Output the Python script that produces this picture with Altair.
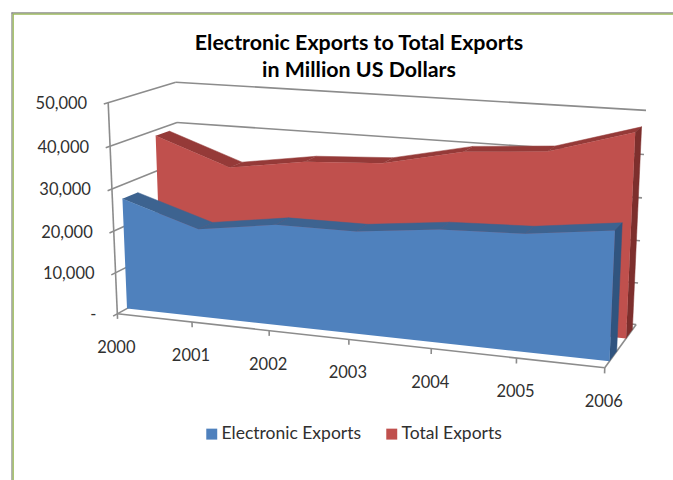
import altair as alt
import numpy as np
import pandas as pd

# Chart values
YEARS = ["2000", "2001", "2002", "2003", "2004", "2005", "2006"]
ELECTRONIC = [26700, 21000, 23700, 23800, 25900, 26600, 29000]
TOTAL = [38600, 32200, 35000, 36000, 40000, 41400, 47000]
VALUE_TICKS = [0, 10000, 20000, 30000, 40000, 50000]
VALUE_LABELS = ["-", "10,000", "20,000", "30,000", "40,000", "50,000"]
AXIS_MAX = 50000
TITLE_LINES = ["Electronic Exports to Total Exports", "in Million US Dollars"]

WIDTH, HEIGHT = 673, 480
BLUE, BLUE_TOP, BLUE_SIDE = "#4f81bd", "#3d6390", "#30547f"
RED, RED_TOP, RED_SIDE = "#c0504d", "#953a38", "#7d2f2d"
GREY = "#8c8c8c"
TEXT = "#303030"
FONT = "Lato"

# Camera for the 3-D box: (year index, value share, depth) -> page position.
# Solved from where the box's edges sit on the page.
BOX_REFS = [
    ((0, 0, 0), (118, 314)), ((1, 0, 0), (192, 322)), ((2, 0, 0), (268, 331)),
    ((5, 0, 0), (517, 358)), ((6, 0, 0), (605, 367)), ((0, 1, 0), (108, 103)),
    ((0, .8, 0), (110, 146)), ((0, .6, 0), (112, 189)), ((0, 1, 1), (176, 82)),
    ((0, .8, 1), (177, 122)), ((6, 1, 1), (646, 111)), ((6, .8, 1), (644, 154)),
    ((6, .2, 1), (638, 283)), ((6, 0, 1), (636, 325)),
]


def solve_camera(refs):
    rows, rhs = [], []
    for (a, b, c), (u, w) in refs:
        rows.append([a, b, c, 1, 0, 0, 0, 0, -u * a, -u * b, -u * c])
        rhs.append(u)
        rows.append([0, 0, 0, 0, a, b, c, 1, -w * a, -w * b, -w * c])
        rhs.append(w)
    p = np.linalg.lstsq(np.array(rows, float), np.array(rhs, float), rcond=None)[0]
    return np.append(p, 1.0).reshape(3, 4)


CAMERA = solve_camera(BOX_REFS)


def project(t, v, d):
    u, w, s = CAMERA @ np.array([t, v, d, 1.0])
    return float(u / s), float(w / s)


def polygon_rows(pid, points):
    return [{"id": pid, "i": i, "px": project(*p)[0], "py": project(*p)[1]}
            for i, p in enumerate(points)]


def line_rows(pid, a, b):
    return polygon_rows(pid, [a, b])


x_enc = alt.X("px:Q", scale=alt.Scale(domain=[0, WIDTH], nice=False, zero=False), axis=None)
y_enc = alt.Y("py:Q", scale=alt.Scale(domain=[HEIGHT, 0], nice=False, zero=False), axis=None)


def faces(rows, color):
    return alt.Chart(pd.DataFrame(rows)).mark_line(fill=color, stroke=color, strokeWidth=0.5).encode(
        x=x_enc, y=y_enc, detail="id:N", order="i:Q")


# Walls, floor edges, axis lines and tick marks
grid = []
last = len(YEARS) - 1
for tick in VALUE_TICKS:
    share = tick / AXIS_MAX
    grid += line_rows(f"back{tick}", (0, share, 1), (last, share, 1))
    grid += line_rows(f"side{tick}", (0, share, -0.06), (0, share, 1))
grid += line_rows("axis", (0, 0, 0), (0, 1, 0))
grid += line_rows("front", (0, 0, 0), (last, 0, 0))
grid += line_rows("right", (last, 0, 0), (last, 0, 1))
for k in range(len(YEARS)):
    grid += line_rows(f"ytick{k}", (k, 0, 0), (k, -0.025, 0))
grid_layer = alt.Chart(pd.DataFrame(grid)).mark_line(color=GREY, strokeWidth=1.6).encode(
    x=x_enc, y=y_enc, detail="id:N", order="i:Q")

fill_scale = alt.Scale(domain=["Electronic Exports", "Total Exports"], range=[BLUE, RED])
legend = alt.Legend(
    title=None, orient="none", legendX=203, legendY=425, direction="horizontal",
    symbolType="square", symbolSize=120, symbolStrokeWidth=0, labelFont=FONT, labelFontSize=17.5,
    labelColor=TEXT, columnPadding=21, labelOffset=1, columns=2)


def series_layers(name, values, d0, d1, top_color, side_color):
    shares = [v / AXIS_MAX for v in values]
    top = []
    for k in range(last):
        top += polygon_rows(f"top{k}", [(k, shares[k], d0), (k + 1, shares[k + 1], d0),
                                        (k + 1, shares[k + 1], d1), (k, shares[k], d1)])
    cap = polygon_rows("cap", [(last, 0, d0), (last, shares[-1], d0),
                               (last, shares[-1], d1), (last, 0, d1)])
    outline = ([(k, shares[k], d0) for k in range(last + 1)] + [(last, 0, d0), (0, 0, d0)])
    front = pd.DataFrame(polygon_rows(name, outline))
    front["series"] = name
    front_layer = alt.Chart(front).mark_line(strokeWidth=0).encode(
        x=x_enc, y=y_enc, order="i:Q",
        fill=alt.Fill("series:N", scale=fill_scale, legend=legend))
    return [faces(top, top_color), faces(cap, side_color), front_layer]


# Labels placed relative to the axes
year_text = []
for k, year in enumerate(YEARS):
    px, py = project(k, 0, 0)
    year_text.append({"px": px - 1, "py": py + 34, "label": year})
value_text = []
for tick, label in zip(VALUE_TICKS, VALUE_LABELS):
    px, py = project(0, tick / AXIS_MAX, 0)
    value_text.append({"px": px - 21, "py": py + 1.5, "label": label})
title_text = [{"px": 359, "py": 44, "label": TITLE_LINES[0]},
              {"px": 359, "py": 71, "label": TITLE_LINES[1]}]


def text_layer(rows, align, **kw):
    return alt.Chart(pd.DataFrame(rows)).mark_text(
        align=align, baseline="middle", font=FONT, **kw
    ).encode(x=x_enc, y=y_enc, text="label:N")


# Outer frame of the chart area: grey edge with a green inner line
frame_rows = pd.DataFrame([
    {"px": 11.5, "px2": WIDTH, "py": 13, "py2": 13, "c": GREY},
    {"px": 13, "px2": WIDTH, "py": 14.2, "py2": 14.2, "c": "#9bbb59"},
    {"px": 12, "px2": 12, "py": 12.5, "py2": HEIGHT, "c": GREY},
    {"px": 13.2, "px2": 13.2, "py": 14, "py2": HEIGHT, "c": "#9bbb59"},
])
frame = alt.Chart(frame_rows).mark_rule(strokeWidth=1.3).encode(
    x=x_enc, x2="px2:Q", y=y_enc, y2="py2:Q", color=alt.Color("c:N", scale=None))

layers = [frame, grid_layer]
layers += series_layers("Total Exports", TOTAL, 0.66, 0.87, RED_TOP, RED_SIDE)
layers += series_layers("Electronic Exports", ELECTRONIC, 0.14, 0.36, BLUE_TOP, BLUE_SIDE)
layers += [
    text_layer(value_text, "right", fontSize=16.5, color=TEXT),
    text_layer(year_text, "center", fontSize=16.5, color=TEXT),
    text_layer(title_text, "center", fontSize=21.4, fontWeight="bold", color="#000000"),
]

chart = alt.layer(*layers).properties(
    width=WIDTH, height=HEIGHT, padding=0, background="white",
    autosize=alt.AutoSizeParams(type="none"),
).configure_view(stroke=None)

chart.save("out.html", embed_options={"renderer": "svg", "actions": False})
